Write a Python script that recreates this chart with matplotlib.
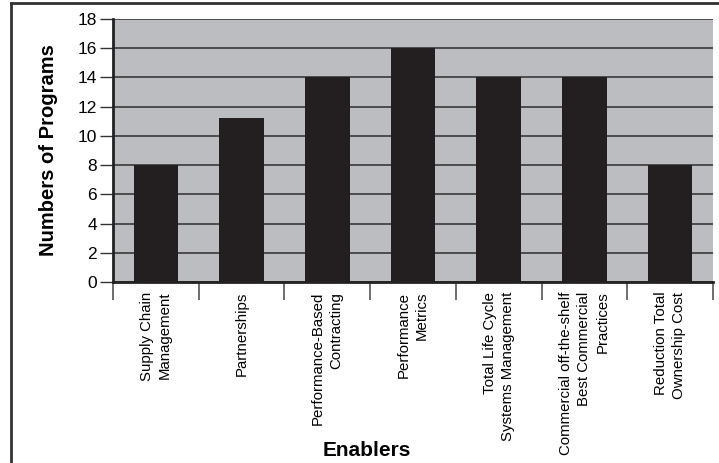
import matplotlib.pyplot as plt
from matplotlib.lines import Line2D
import numpy as np

plt.rcParams['font.family'] = ['Liberation Sans', 'DejaVu Sans']

# Programs using each enabler
enablers = [
    "Supply Chain\nManagement",
    "Partnerships",
    "Performance-Based\nContracting",
    "Performance\nMetrics",
    "Total Life Cycle\nSystems Management",
    "Commercial off-the-shelf\nBest Commercial\nPractices",
    "Reduction Total\nOwnership Cost",
]
programs = [8, 11.2, 14, 16, 14, 14, 8]
y_ticks = [0, 2, 4, 6, 8, 10, 12, 14, 16, 18]

fig = plt.figure(figsize=(7.19, 4.63), dpi=100)
ax = fig.add_axes([113 / 719, 1 - 282 / 463, 600 / 719, 263 / 463])
ax.set_facecolor("#bcbdc0")

x = np.arange(len(enablers))
ax.bar(x, programs, width=0.52, color="#231f20", zorder=3)

ax.set_xlim(-0.5, len(enablers) - 0.5)
ax.set_ylim(0, 18)
ax.set_yticks(y_ticks)
ax.set_yticklabels([str(v) for v in y_ticks], fontsize=12.5)
ax.yaxis.grid(True, color="#444444", linewidth=1.3, zorder=1)
ax.tick_params(axis="y", length=9.5, width=1, color="#333333", pad=2)

# category labels at the centres, tick marks on the boundaries
ax.set_xticks(x)
ax.set_xticklabels(enablers, rotation=90, fontsize=10.8, ha="center", va="top",
                   multialignment="right", linespacing=1.4)
ax.tick_params(axis="x", which="major", length=0, pad=7)
ax.set_xticks(np.arange(len(enablers) + 1) - 0.5, minor=True)
ax.tick_params(axis="x", which="minor", length=13, width=1.2, color="#555555")

for side in ["top", "right"]:
    ax.spines[side].set_visible(False)
ax.spines["left"].set_linewidth(2)
ax.spines["bottom"].set_linewidth(2)
ax.spines["left"].set_color("#222222")
ax.spines["bottom"].set_color("#222222")

ax.set_ylabel("Numbers of Programs", fontsize=14.5, fontweight="bold", labelpad=14)
fig.text(367 / 719, 1 - 451 / 463, "Enablers", fontsize=15, fontweight="bold",
         ha="center", va="center")

# frame lines along the left and top of the figure
fig.add_artist(Line2D([11 / 719, 11 / 719], [0, 1 - 3 / 463], transform=fig.transFigure,
                      color="#333333", linewidth=2))
fig.add_artist(Line2D([11 / 719, 1], [1 - 3 / 463, 1 - 3 / 463], transform=fig.transFigure,
                      color="#333333", linewidth=2))

fig.savefig("out.png", dpi=100)
